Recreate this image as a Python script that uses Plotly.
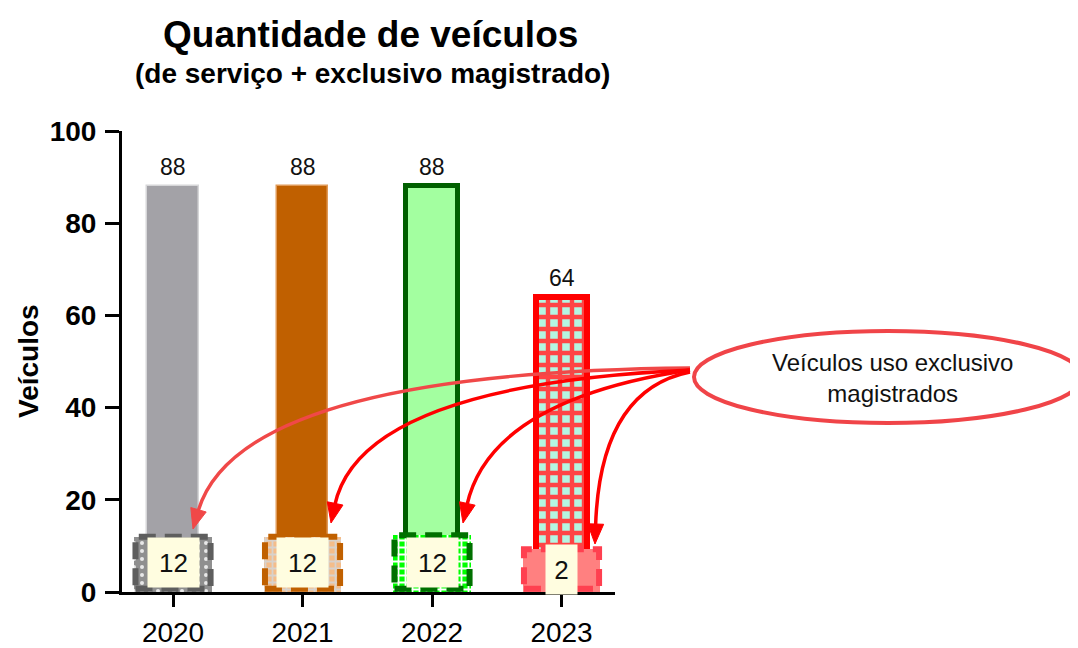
import plotly.graph_objects as go

# ---- data ----
anos = ["2020", "2021", "2022", "2023"]
veiculos_total = [88, 88, 88, 64]
veiculos_exclusivo = [12, 12, 12, 2]
# height at which the "exclusivo" boxes are drawn in the picture
altura_caixa_exclusivo = [12, 12, 12.3, 9.3]
y_ticks = [0, 20, 40, 60, 80, 100]

# ---- styles ----
FONT = "Arial, Liberation Sans, sans-serif"
big_fill = ["#A3A2A7", "#C06000", "#A3FFA0", "#B4F5E1"]
big_line = ["#D6D6D8", "#E09A58", "#006000", "#FF0000"]
big_lw = [1.5, 1.5, 5, 6]
small_bg = ["#8F8F8F", "#F4BD8A", "#00FF00", "#FF8080"]
small_fg = ["#E8E8E8", "#D8D2CC", "#FFFFFF", "#FF8080"]
small_shape = [".", "+", "+", ""]
small_border = ["#5E5E5E", "#C06000", "#007000", "#FF4050"]

# screen-pixel layout of the plot area (page has an 8px body offset)
OFF = 8
L, R, T, B = 122, 615, 131, 592
W, H = 1078 - OFF, 648


def px(x):
    return (x - L) / (R - L)


def py(y):
    return (B - y) / (B - T)


fig = go.Figure()
xs = list(range(len(anos)))

# big bars
for i, v in enumerate(veiculos_total):
    marker = dict(color=big_fill[i], line=dict(color=big_line[i], width=big_lw[i]))
    if i == 3:
        marker["pattern"] = dict(shape="+", fgcolor="#FF4444", bgcolor="#B4F5E1",
                                 size=12, solidity=0.6, fillmode="replace")
    fig.add_trace(go.Bar(x=[xs[i]], y=[v], width=0.4, marker=marker,
                         showlegend=False, hoverinfo="skip"))

# small boxes
for i, h in enumerate(altura_caixa_exclusivo):
    marker = dict(color=small_bg[i], line=dict(width=0))
    if small_shape[i]:
        marker["pattern"] = dict(shape=small_shape[i], fgcolor=small_fg[i],
                                 bgcolor=small_bg[i], size=7 if i else 8,
                                 solidity=0.45 if i else 0.2, fillmode="replace")
    fig.add_trace(go.Bar(x=[xs[i]], y=[h], width=0.6, marker=marker,
                         showlegend=False, hoverinfo="skip"))

shapes = []
annotations = []

# dashed borders of the small boxes
for i, h in enumerate(altura_caixa_exclusivo):
    shapes.append(dict(type="rect", xref="x", yref="y",
                       x0=xs[i] - 0.29, x1=xs[i] + 0.29, y0=0.7, y1=h,
                       line=dict(color=small_border[i], width=6, dash="17px,9px"),
                       layer="above"))

# label boxes for the exclusive values
for i, v in enumerate(veiculos_exclusivo):
    annotations.append(dict(x=xs[i], y=altura_caixa_exclusivo[i] / 2 + 0.3,
                            xref="x", yref="y", text=str(v), showarrow=False,
                            xanchor="center", yanchor="middle",
                            bgcolor="#FFFDE0", width=49 if i < 3 else 29, height=47,
                            font=dict(family=FONT, size=26, color="#111111")))

# top values
for i, v in enumerate(veiculos_total):
    annotations.append(dict(x=xs[i], y=v, xref="x", yref="y", text=str(v),
                            showarrow=False, yshift=19, xanchor="center",
                            yanchor="middle",
                            font=dict(family=FONT, size=23, color="#111111")))

# ellipse callout
shapes.append(dict(type="circle", xref="paper", yref="paper",
                   x0=px(694), x1=px(1082), y0=py(423), y1=py(331),
                   line=dict(color="#F04448", width=4), fillcolor="white"))
annotations.append(dict(x=px(892), y=py(378), xref="paper", yref="paper",
                        xanchor="center", yanchor="middle",
                        text="Veículos uso exclusivo<br>magistrados", showarrow=False,
                        font=dict(family=FONT, size=24, color="#111111")))

# curved arrows (screen pixels: start, control, tip)
arrows = [
    ((690, 368), (238, 372), (193, 529), "#F04848"),
    ((690, 370), (360, 385), (331, 523), "#FF0000"),
    ((690, 370), (490, 400), (463, 523), "#FF0000"),
    ((690, 372), (600, 390), (595, 544), "#FF0000"),
]
for (p0, p1, p2, col) in arrows:
    dx, dy = p2[0] - p1[0], p2[1] - p1[1]
    n = (dx * dx + dy * dy) ** 0.5
    ux, uy = dx / n, dy / n
    hl, hw = 20, 8
    bx, by = p2[0] - ux * hl, p2[1] - uy * hl
    path = "M {},{} Q {},{} {},{}".format(px(p0[0]), py(p0[1]), px(p1[0]), py(p1[1]),
                                          px(bx + ux * 2), py(by + uy * 2))
    shapes.append(dict(type="path", xref="paper", yref="paper", path=path,
                       line=dict(color=col, width=3.5), layer="above"))
    lx, ly = bx - uy * hw, by + ux * hw
    rx, ry = bx + uy * hw, by - ux * hw
    tri = "M {},{} L {},{} L {},{} Z".format(px(p2[0]), py(p2[1]), px(lx), py(ly),
                                            px(rx), py(ry))
    shapes.append(dict(type="path", xref="paper", yref="paper", path=tri,
                       line=dict(color=col, width=1), fillcolor=col, layer="above"))

# titles
annotations.append(dict(x=px(370), y=py(35), xref="paper", yref="paper",
                        xanchor="center", yanchor="middle",
                        text="<b>Quantidade de veículos</b>", showarrow=False,
                        font=dict(family=FONT, size=37, color="black")))
annotations.append(dict(x=px(372), y=py(73), xref="paper", yref="paper",
                        xanchor="center", yanchor="middle",
                        text="<b>(de serviço + exclusivo magistrado)</b>", showarrow=False,
                        font=dict(family=FONT, size=28, color="black")))
# y axis title
annotations.append(dict(x=px(28), y=py(361), xref="paper", yref="paper",
                        xanchor="center", yanchor="middle", textangle=-90,
                        text="<b>Veículos</b>", showarrow=False,
                        font=dict(family=FONT, size=28, color="black")))

fig.update_layout(
    width=W, height=H,
    margin=dict(l=L - OFF, r=W - (R - OFF), t=T - OFF, b=H - (B - OFF), pad=0),
    paper_bgcolor="white", plot_bgcolor="white",
    barmode="overlay", bargap=0,
    shapes=shapes, annotations=annotations,
    showlegend=False,
    font=dict(family=FONT, color="black"),
)
fig.update_xaxes(
    range=[-0.394, 3.413], tickvals=xs, ticktext=anos, automargin=False,
    showline=True, linecolor="black", linewidth=3,
    ticks="outside", ticklen=12, tickwidth=3, tickcolor="black",
    tickfont=dict(family=FONT, size=28, color="black"),
    ticklabelstandoff=1, showgrid=False, zeroline=False, fixedrange=True,
)
fig.update_yaxes(
    range=[0, 100], tickvals=y_ticks, automargin=False,
    ticktext=["<b>%d</b>" % t for t in y_ticks],
    showline=True, linecolor="black", linewidth=3,
    ticks="outside", ticklen=14, tickwidth=3, tickcolor="black",
    tickfont=dict(family=FONT, size=28, color="black"),
    ticklabelstandoff=3,
    showgrid=False, zeroline=False, fixedrange=True,
)

fig.write_html("out.html")
